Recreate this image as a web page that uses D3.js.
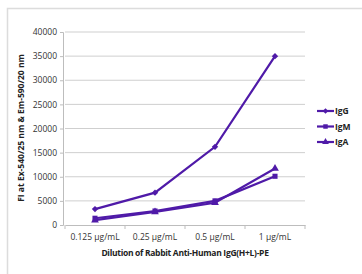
<!DOCTYPE html>
<html><head><meta charset="utf-8">
<script src="https://cdn.jsdelivr.net/npm/d3@7"></script>
<style>body{margin:0;background:#fff}svg{display:block}</style>
</head><body>
<svg id="c" width="362" height="274"></svg>
<script>
const categories = ["0.125 µg/mL", "0.25 µg/mL", "0.5 µg/mL", "1 µg/mL"];
const seriesNames = ["IgG", "IgM", "IgA"];
const igG = [3300, 6700, 16200, 35000];
const igM = [1400, 2900, 5000, 10100];
const igA = [1000, 2700, 4600, 11700];
const yTicks = [0, 5000, 10000, 15000, 20000, 25000, 30000, 35000, 40000];
const yTitle = "FI at Ex-540/25 nm & Em-590/20 nm";
const xTitle = "Dilution of Rabbit Anti-Human IgG(H+L)-PE";

const series = [
  {name: seriesNames[0], values: igG, marker: d3.symbolDiamond2 || d3.symbolDiamond},
  {name: seriesNames[1], values: igM, marker: d3.symbolSquare},
  {name: seriesNames[2], values: igA, marker: d3.symbolTriangle}
];
const color = "#4f1aa8";
const font = "'Open Sans', 'Noto Sans', sans-serif";

const svg = d3.select("#c");
// outer frame
svg.append("path").attr("d", "M7.5,274 V8.5 H362").attr("fill", "none")
  .attr("stroke", "#dcdcdc").attr("stroke-width", 1.5);

const x = d3.scaleBand().domain(categories).range([65, 305]);
const y = d3.scaleLinear().domain([0, 40000]).range([225, 32]);

// gridlines
svg.append("g").selectAll("line").data(yTicks.filter(d => d > 0)).join("line")
  .attr("x1", 65).attr("x2", 305).attr("y1", d => y(d)).attr("y2", d => y(d))
  .attr("stroke", "#cfcfcf").attr("stroke-width", 1);

// y axis
const ya = svg.append("g").attr("transform", "translate(63,0)")
  .call(d3.axisLeft(y).tickValues(yTicks).tickSize(3).tickPadding(3).tickFormat(d3.format("d")));
ya.select(".domain").attr("stroke", "#bdbdbd");
ya.selectAll(".tick line").attr("stroke", "#bdbdbd");
ya.selectAll("text").attr("font-family", font).attr("font-size", 8.5).attr("fill", "#333");

// x axis
const xa = svg.append("g").attr("transform", "translate(0,225)")
  .call(d3.axisBottom(x).tickSize(0).tickPadding(9));
xa.select(".domain").attr("stroke", "#bdbdbd");
xa.selectAll("text").attr("font-family", font).attr("font-size", 8.5).attr("fill", "#333");
xa.selectAll("line.sep").data(categories.concat(["end"])).join("line").attr("class", "sep")
  .attr("x1", (d, i) => i < categories.length ? x(d) : x.range()[1])
  .attr("x2", (d, i) => i < categories.length ? x(d) : x.range()[1])
  .attr("y1", 0).attr("y2", 4).attr("stroke", "#bdbdbd");

const cx = c => x(c) + x.bandwidth() / 2;
const line = d3.line().x((d, i) => cx(categories[i])).y(d => y(d));

series.forEach(s => {
  svg.append("path").datum(s.values).attr("d", line)
    .attr("fill", "none").attr("stroke", color).attr("stroke-width", 2.2);
  svg.append("g").selectAll("path").data(s.values).join("path")
    .attr("transform", (d, i) => `translate(${cx(categories[i])},${y(d)})`)
    .attr("d", d3.symbol().type(s.marker).size(26))
    .attr("fill", color);
});

// legend
const lg = svg.append("g");
series.forEach((s, i) => {
  const yy = 111 + i * 15.5;
  lg.append("line").attr("x1", 317).attr("x2", 334).attr("y1", yy).attr("y2", yy)
    .attr("stroke", color).attr("stroke-width", 2.2);
  lg.append("path").attr("transform", `translate(325.5,${yy})`)
    .attr("d", d3.symbol().type(s.marker).size(20)).attr("fill", color);
  lg.append("text").attr("x", 335).attr("y", yy + 3.2).text(s.name)
    .attr("font-family", font).attr("font-size", 8.5).attr("font-weight", "bold").attr("fill", "#222");
});

// titles
svg.append("text").attr("transform", "translate(24,128) rotate(-90)")
  .attr("text-anchor", "middle").text(yTitle)
  .attr("font-family", font).attr("font-size", 8.5).attr("font-weight", "bold").attr("fill", "#222");
svg.append("text").attr("x", 185).attr("y", 256).attr("text-anchor", "middle").text(xTitle)
  .attr("font-family", font).attr("font-size", 8.5).attr("font-weight", "bold").attr("fill", "#222")
  .attr("letter-spacing", -0.3);
</script>
</body></html>
